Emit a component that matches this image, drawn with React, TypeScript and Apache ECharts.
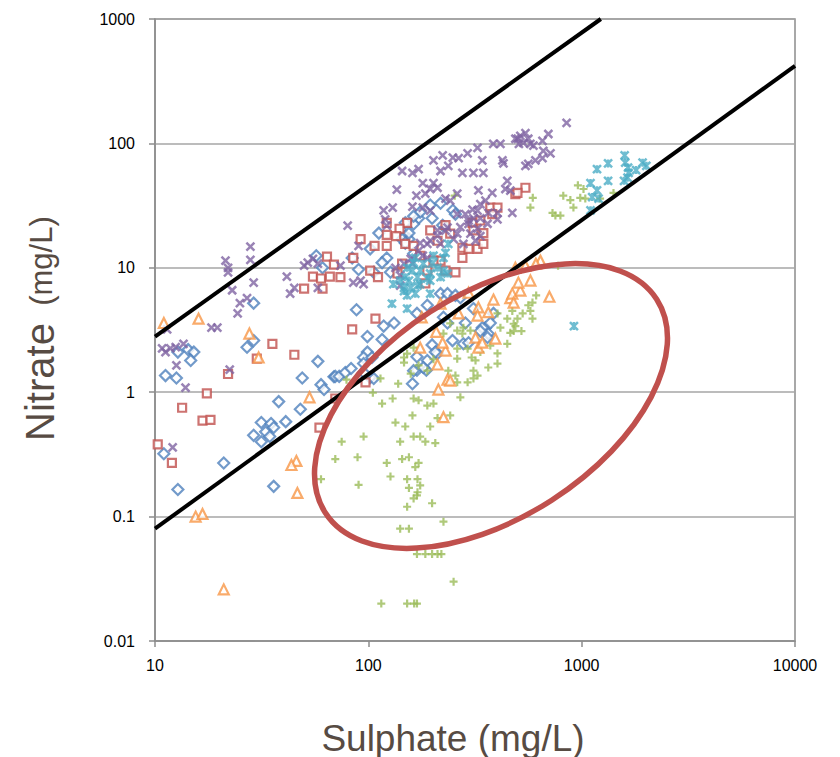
import React, { useEffect, useRef } from "react";
import * as echarts from "echarts";

// Sulphate (mg/L) vs Nitrate (mg/L)
const blueData = [
  [57,12.5],[61,10],[29,5.2],[27,2.3],[29,2.6],[14.3,2.2],[15.2,2.1],[14.7,1.8],[12.8,2.1],[11.2,1.36],[12.6,1.3],[49,1.3],[58,1.77],[69,1.33],[60,1.15],[62,1.05],[38,0.84],[48,0.73],[41,0.58],[31.5,0.57],[35,0.56],[29,0.45],[33,0.48],[36,0.52],[34.5,0.44],[31.5,0.4],[11,0.32],[21,0.27],[12.8,0.165],[36,0.175],
  [195,32],[218,33],[249,29],[199,25],[172,25],[163,22.5],[149,23],[112,19],[102,14.2],[149,18],[155,17],[144,17],[149,15.8],[122,12],[116,11],[84,12],[90,9.7],[106,9.2],[127,9.2],[223,22],[155,19],[163,13],[175,28],[163,26],[256,27],
  [88,4.6],[118,3.4],[132,3.6],[99,2.8],[116,2.65],[99,2.1],[95,1.9],[95,1.7],[104,1.9],[70,1.34],[73,1.34],[78,1.44],[83,1.55],[95,1.44],[102,1.31],[106,1.29],[161,1.17],[169,1.5],[187,1.5],[169,1.93],[189,1.8],[199,2.4],[211,2.05],[189,5],[218,6.2],[235,6.2],[256,6],[169,4.3],[235,3.6],[285,3.6],[311,4.7],[354,3.3],[365,2.95],[373,3.6],[386,4.3],[248,2.6],[279,2.45],[295,2.5],[362,2.75],[270,5.75],[342,3.3],[206,2.1],[181,1.58],[163,1.49],[225,4],[335,3.1]
];
const redData = [
  [64,12.3],[69,10.6],[55,8.5],[60,8.2],[66,8.5],[50,6.8],[61,6.8],[35.5,2.45],[45,2.0],[30,1.86],[22,1.4],[17.5,0.98],[13.4,0.75],[16.7,0.59],[18.2,0.6],[10.3,0.38],[12,0.27],[59,0.52],[70,0.89],
  [122,23],[152,23],[140,20.6],[135,18],[122,18.4],[92,17],[107,15],[122,15],[149,15.6],[163,15],[85,12],[195,20],[230,22],[373,30.5],[403,30.5],[381,27],[489,39],[276,14.5],[295,14.2],[325,14.2],[346,15.6],[276,12],[74,8.4],[102,9.5],[111,8.4],[137,9.0],[144,10.8],[256,9.2],[218,11.4],[185,7.5],[545,44],[500,40],[308,23],[335,24],[311,20],[346,19],[230,9.5],[242,18.8],[211,16.5],[189,9.5],[175,12.5],[202,11.4],[108,3.9],[84,3.2],[97,1.2]
];
const greenData = [
  [960,46],[1020,43],[820,38],[885,35],[915,30.5],[985,36.5],[1040,36],[1220,36],[1410,40],[590,36.5],[575,30.5],[730,27.6],[753,26.3],[795,26.3],[775,10.4],[254,38],
  [612,6],[588,5.25],[562,5],[575,4.5],[588,3.9],[529,4.3],[500,3.9],[489,3.4],[522,3.1],[480,3.1],
  [416,3.3],[373,2.37],[335,2.1],[403,2.05],[305,1.9],[311,1.49],[261,1.86],[365,1.58],[448,2.45],[261,2.24],[276,2.96],[225,2.96],[152,2.04],[147,1.73],[163,2.28],[202,1.84],[189,1.49],[325,1.36],[237,1.49],
  [256,1.36],[261,1.2],[292,1.2],[311,1.29],[403,1.7],[318,1.8],[292,2.24],[463,3.0],[480,3.55],[448,3.9],[403,4.3],[473,4.5],[279,3.3],[301,3.13],[261,3.13],[242,3.57],[147,1.9],[158,1.41],[172,1.64],[114,1.29],
  [105,0.99],[138,1.17],[130,0.89],[116,0.81],[163,0.89],[172,0.86],[189,0.78],[202,0.81],[270,0.91],[242,0.65],[211,0.62],[161,0.65],[134,0.57],[149,0.53],[195,0.53],[95,0.44],[75,0.4],[163,0.44],[175,0.44],[185,0.4],[141,0.4],[206,0.39],[89,0.3],[70,0.29],[122,0.27],[144,0.29],[155,0.3],[172,0.27],[166,0.25],[79,1.26],
  [127,0.21],[152,0.2],[170,0.2],[175,0.178],[155,0.17],[170,0.157],[169,0.148],[163,0.14],[90,0.18],[152,0.12],[199,0.128],[141,0.08],[155,0.08],[225,0.091],[169,0.05],[185,0.05],[199,0.05],[211,0.05],[220,0.05],[251,0.03],[115,0.02],[152,0.02],[164,0.02],[169,0.02],[60,0.2]
];
const purpleData = [
  [28,14.8],[21.4,11.4],[22,10],[22,9.2],[28,11.6],[29,7.6],[41.5,8.5],[45,6.9],[50,10.4],[52,11],[55,11.8],[58,10.8],[23,6.6],[58,6.9],[25,5.2],[27,5.7],[24.4,4.3],[18.4,3.3],[19.6,3.3],[43,6.2],[11.4,3.2],[10.8,2.25],[11.2,2.1],[11.8,2.25],[12.5,2.3],[13.6,2.45],[12.6,1.64],[13.9,1.09],[22.4,1.52],[12.1,0.36],
  [489,109],[385,99],[416,99],[325,92],[292,83],[265,76],[249,77],[202,73],[223,80],[237,66],[276,58],[342,73],[425,73],[430,69],[311,58],[346,58],[218,60],[144,60],[161,58],[172,62],[180,48],[202,48],[211,44],[136,42.5],[185,39.5],[168,38],[328,42],[381,40],[448,50],[439,43],[118,29],[130,30.5],[161,31],[180,30.5],[195,28.8],[230,36],[242,34.7],[261,27],[295,24],[325,28.8],[354,34.7],[403,27.6],[473,27.6],[80,21.8],[90,15],[74,10.4],[211,20],[235,21],[189,15.6],[172,13.7],[189,12],[218,15.6],[261,18.8],[301,18.8],[325,20.7],[362,22.6],[279,15.6],[161,10.8],[134,10],[141,7.2],[92,7.9],[95,7.4],[85,7.6],
  [195,43],[261,39.4],[335,32.5],[308,29.4],[285,27],[311,25],[335,25],[365,27.6],[403,24.5],[295,22.5],[270,21.2],[230,19.9],[211,18.1],[195,16.5],[175,15.8],[180,12.5],[122,21.8],[120,24.5],[158,11.8],[147,10.8],[141,8.7],[251,17],[335,18],[318,16.5],
  [516,115],[545,121],[502,109],[533,101],[562,109],[575,99],[508,99],[594,96],[655,105],[698,119],[661,87],[714,83],[655,76],[607,73],[562,68.5],[545,66],[850,146],[463,41.7]
];
const tealData = [
  [237,15.6],[225,12],[199,10.8],[181,10.8],[175,9.5],[195,9],[211,10],[166,12],[161,9.5],[149,8.4],[170,8.4],[189,8.2],[218,8.4],[235,9],[170,7.2],[158,6.9],[147,6.9],[230,13.2],[202,12.5],[163,11],[152,10],[155,7.9],[175,7.4],[195,7.9],[225,9.5],[141,7.9],[131,7.4],[129,5.15],[152,6],[152,4.7],[166,6.2],[195,6.2],[147,6.5],
  [1590,80],[1600,70],[1650,64],[1930,70],[2010,66],[1800,61],[1660,58],[1180,62],[1330,69],[1330,50],[1580,50],[1640,53],[1100,48],[1180,42],[1120,37],[1200,36],[1100,29],[920,3.4]
];
const orangeData = [
  [11,3.6],[16,3.9],[27.7,2.96],[30.6,1.9],[53,0.91],[46,0.28],[43.6,0.26],[46.5,0.155],[15.5,0.1],[16.7,0.105],[21,0.026],
  [178,4],[208,3.06],[230,2.16],[211,1.67],[235,1.26],[213,1.05],[225,0.63],[295,6.3],[328,4.8],[325,4.13],[386,5.55],[463,5.7],[473,6.2],[318,2.75],[328,2.28],[342,2.5],[394,2.7],[175,2.28],[265,4.3],[218,5.15],[365,4.4],[223,2.5],[242,1.24],[516,6.56],[575,7.9],[505,7.6],[706,5.85],[641,11.4],[545,10.4],[489,10],[480,5.25],[610,10.8]
];
const upperLine = [[10, 2.8], [1230, 1000]];
const lowerLine = [[10, 0.08], [10000, 420]];

const xMin = 10, xMax = 10000, yMin = 0.01, yMax = 1000;
const xTitle = "Sulphate (mg/L)";
const yTitleMain = "Nitrate";
const yTitleUnit = "(mg/L)";

const CROSS = "path://M0,0L10,10M10,0L0,10";
const PLUS = "path://M5,0L5,10M0,5L10,5";
const STAR = "path://M0,0L10,10M10,0L0,10M5,0L5,10";

const FONT = '"Liberation Sans", Arial, sans-serif';
const TITLE_COLOR = "#574b43";

function logLabel(v: number) {
  const e = Math.round(Math.log10(v));
  return e >= 0 ? String(Math.pow(10, e)) : Math.pow(10, e).toFixed(-e);
}

function scatter(name: string, data: number[][], symbol: string, size: number, color: string, hollowFill: string, bw: number) {
  return {
    name,
    type: "scatter",
    data,
    symbol,
    symbolSize: size,
    itemStyle: { color: hollowFill, borderColor: color, borderWidth: bw },
    z: 2,
  };
}

export default function App() {
  const ref = useRef<HTMLDivElement>(null);
  useEffect(() => {
    document.body.style.margin = "0";
    const chart = echarts.init(ref.current!, null, { renderer: "svg" });
    const axisLine = { show: true, lineStyle: { color: "#8c8c8c", width: 1.5 } };
    chart.setOption({
      animation: false,
      backgroundColor: "#fff",
      grid: { left: 155, right: 45, top: 19, bottom: 116, show: true, borderColor: "#8c8c8c", borderWidth: 1.5 },
      xAxis: {
        type: "log",
        logBase: 10,
        min: xMin,
        max: xMax,
        axisLine,
        axisTick: { show: true, length: 6, lineStyle: { color: "#8c8c8c", width: 1.5 } },
        minorTick: { show: false },
        splitLine: { show: false },
        axisLabel: { color: "#000", fontSize: 16, fontFamily: FONT, margin: 16, formatter: logLabel },
      },
      yAxis: {
        type: "log",
        logBase: 10,
        min: yMin,
        max: yMax,
        axisLine,
        axisTick: { show: true, length: 6, lineStyle: { color: "#8c8c8c", width: 1.5 } },
        splitLine: { show: true, lineStyle: { color: "#a6a6a6", width: 1.5 } },
        axisLabel: { color: "#000", fontSize: 16, fontFamily: FONT, margin: 20, formatter: logLabel },
      },
      series: [
        scatter("Blue", blueData, "diamond", 11, "#4F81BD", "#fff", 2.2),
        scatter("Red", redData, "rect", 8, "#C0504D", "#fff", 2.2),
        scatter("Green", greenData, PLUS, 8, "#9BBB59", "transparent", 2.2),
        scatter("Purple", purpleData, CROSS, 8, "#8064A2", "transparent", 2.5),
        scatter("Teal", tealData, STAR, 8, "#4BACC6", "transparent", 2.5),
        scatter("Orange", orangeData, "triangle", 10, "#F79646", "#fff", 2.2),
        { type: "line", data: upperLine, symbol: "none", lineStyle: { color: "#000", width: 4 }, z: 4, silent: true },
        { type: "line", data: lowerLine, symbol: "none", lineStyle: { color: "#000", width: 4 }, z: 4, silent: true },
      ],
      graphic: [
        {
          type: "ellipse",
          x: 491,
          y: 406,
          rotation: (32.8 * Math.PI) / 180,
          shape: { cx: 0, cy: 0, rx: 197, ry: 112 },
          style: { fill: "none", stroke: "#C0504D", lineWidth: 5.5 },
          z: 100,
        },
        {
          type: "text",
          x: 453,
          y: 738,
          style: { text: xTitle, fontSize: 37, fontFamily: FONT, fill: TITLE_COLOR, align: "center", verticalAlign: "middle" },
        },
        {
          type: "text",
          x: 40,
          y: 382,
          rotation: Math.PI / 2,
          style: { text: yTitleMain, fontSize: 40, fontFamily: FONT, fill: TITLE_COLOR, align: "center", verticalAlign: "middle" },
        },
        {
          type: "text",
          x: 41,
          y: 261,
          rotation: Math.PI / 2,
          style: { text: yTitleUnit, fontSize: 31, fontFamily: FONT, fill: TITLE_COLOR, align: "center", verticalAlign: "middle" },
        },
      ],
    });
    return () => chart.dispose();
  }, []);
  return <div ref={ref} style={{ width: 840, height: 757 }} />;
}
